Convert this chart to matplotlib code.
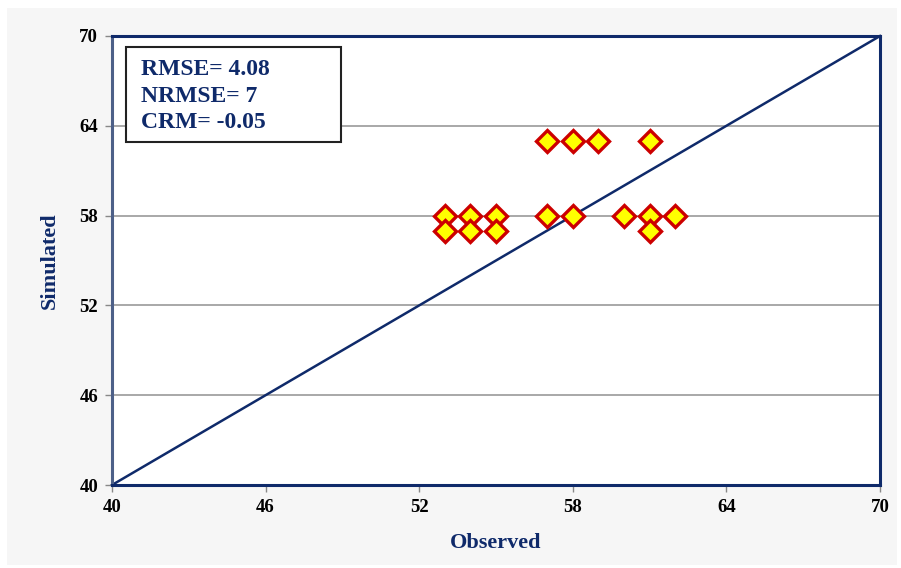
import matplotlib
matplotlib.use("Agg")
import matplotlib.pyplot as plt
from matplotlib.patches import Rectangle

observed = [53, 53, 54, 54, 55, 55, 57, 57, 58, 58, 59, 60, 61, 61, 61, 62]
simulated = [58, 57, 58, 57, 58, 57, 63, 58, 63, 58, 63, 58, 63, 58, 57, 58]
ticks = [40, 46, 52, 58, 64, 70]
stats_text = ["RMSE= 4.08", "NRMSE= 7", "CRM= -0.05"]

plt.rcParams['font.family'] = ['Liberation Serif', 'DejaVu Serif']
plt.rcParams['font.weight'] = 'bold'

navy = '#0f2a6a'
fig = plt.figure(figsize=(9.01, 5.68), dpi=100)
fig.patch.set_facecolor('white')
fig.add_artist(Rectangle((7/901, 3/568), 890/901, 557/568, transform=fig.transFigure,
                         facecolor='#f6f6f6', edgecolor='none', zorder=0))

ax = fig.add_axes([112/901, 1-485/568, 768/901, 449/568])
ax.set_facecolor('white')
ax.set_xlim(40, 70)
ax.set_ylim(40, 70)
ax.set_xticks(ticks)
ax.set_yticks(ticks)
ax.set_xticklabels([str(t) for t in ticks], fontsize=13.5, fontweight='bold')
ax.set_yticklabels([str(t) for t in ticks], fontsize=13.5, fontweight='bold')
ax.yaxis.grid(True, color='#9a9a9a', linewidth=1.2)
ax.set_axisbelow(True)
ax.tick_params(direction='out', length=5, width=1, color='#888888', pad=5)

for s in ['top', 'right', 'bottom']:
    ax.spines[s].set_color(navy)
    ax.spines[s].set_linewidth(2.2)
ax.spines['left'].set_color('#4d6088')
ax.spines['left'].set_linewidth(2.2)

ax.plot([40, 70], [40, 70], color=navy, linewidth=1.8, zorder=2, clip_on=False)
ax.plot(observed, simulated, linestyle='none', marker='D', markersize=11.5,
        markerfacecolor='#ffff00', markeredgecolor='#cc0000', markeredgewidth=2.4, zorder=3)

ax.set_xlabel('Observed', fontsize=16, fontweight='bold', color=navy, labelpad=12)
ax.set_ylabel('Simulated', fontsize=16, fontweight='bold', color=navy, labelpad=14)

ax.text((141-112)/768, (485-96)/449, "\n".join(stats_text), transform=ax.transAxes,
        fontsize=17, fontweight='bold', color=navy, va='center', ha='left',
        linespacing=1.34, zorder=5)
ax.add_patch(Rectangle(((126-112)/768, (485-142)/449), (341-126)/768, (142-47)/449,
                       transform=ax.transAxes, facecolor='white', edgecolor='#222222',
                       linewidth=1.5, zorder=4))

fig.savefig('out.png', dpi=100, facecolor=fig.get_facecolor())
